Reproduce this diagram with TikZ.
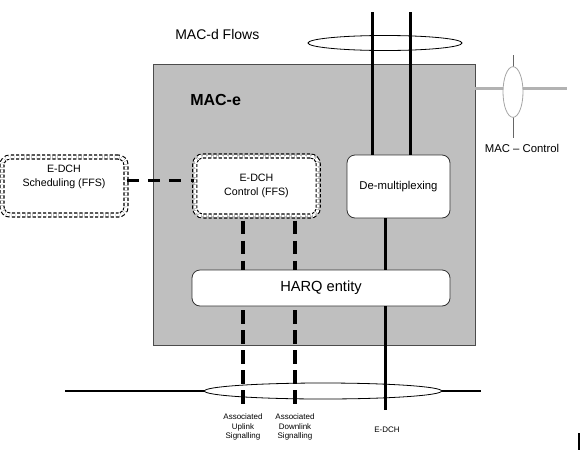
\documentclass[tikz,border=0pt]{standalone}
\usepackage{fontspec}
\setmainfont{Liberation Sans}
\usetikzlibrary{calc,shapes.geometric}
\begin{document}
\begin{tikzpicture}[x=0.75pt,y=-0.75pt,
  thickline/.style={line width=2.25pt,black},
  dashline/.style={line width=3pt,black,dash pattern=on 10pt off 5pt},
  ffsbox/.style={draw,fill=white,rounded corners=6pt,dashed,dash pattern=on 2.4pt off 1.5pt,
     line width=0.85pt,double=white,double distance=2.2pt,inner sep=0pt,align=center,font=\fontsize{8}{10}\selectfont},
  solidbox/.style={draw=black!80,fill=white,rounded corners=6pt,line width=0.6pt,inner sep=0pt,align=center},
  lens/.style={ellipse,draw,fill=white,line width=0.6pt},
  small/.style={align=center,font=\fontsize{6}{7}\selectfont,inner sep=0pt}]
\useasboundingbox (0,0) rectangle (581,468);
% MAC-e box
\node[draw=black!70,fill=black!25,line width=0.6pt,minimum width=241.5pt,minimum height=210.75pt,inner sep=0pt] (mace) at (314,204.5) {};
\node[anchor=west,font=\bfseries\fontsize{12}{14}\selectfont,inner sep=0pt] (macelbl) at (190,100) {MAC-e};
\node[anchor=west,font=\fontsize{10.5}{12}\selectfont,inner sep=0pt] (flowslbl) at (175,34) {MAC-d Flows};
% boxes
\node[solidbox,minimum width=77.25pt,minimum height=47.25pt,font=\fontsize{8.5}{10}\selectfont] (demux) at (398.5,186.5) {De-multiplexing};
\node[solidbox,minimum width=193.5pt,minimum height=27pt,font=\fontsize{11}{13}\selectfont] (harq) at (321,288) {HARQ entity};
\node[ffsbox,minimum width=92.5pt,minimum height=45pt] (ctrl) at (256.5,186) {E-DCH\\Control (FFS)};
\node[ffsbox,minimum width=93pt,minimum height=43.5pt] (sched) at (64,186) {};
\node[align=center,font=\fontsize{8}{10}\selectfont,inner sep=0pt] (schedlbl) at (64,177) {E-DCH\\Scheduling (FFS)};
% top flows
\node[lens,minimum width=115.5pt,minimum height=11.25pt,inner sep=0pt] (topell) at (385,43) {};
\coordinate (f1) at (372,12);
\coordinate (f2) at (410,12);
\draw[thickline] (f1) -- (f1 |- demux.north);
\draw[thickline] (f2) -- (f2 |- demux.north);
% E-DCH transport
\coordinate (edchend) at (385,410);
\draw[thickline] (demux.south -| edchend) -- (harq.north -| edchend);
% bottom line and ellipse
\coordinate (bl) at (65,391);
\coordinate (br) at (481,391);
\draw[line width=0.8pt] (bl) -- (br);
\node[lens,minimum width=177.75pt,minimum height=12pt,inner sep=0pt] (botell) at (323,391) {};
\draw[thickline] (harq.south -| edchend) -- (edchend);
% dashed signalling
\coordinate (ul) at (243,410);
\coordinate (dl) at (295,410);
\draw[dashline] ($(ctrl.south -| ul)+(0,4)$) -- (harq.north -| ul);
\draw[dashline] ($(ctrl.south -| dl)+(0,4)$) -- (harq.north -| dl);
\draw[dashline] ($(harq.south -| ul)+(0,4)$) -- (ul);
\draw[dashline] ($(harq.south -| dl)+(0,4)$) -- (dl);
\draw[line width=2.25pt,dash pattern=on 9pt off 7pt] (sched.east |- 0,180) -- (ctrl.west |- 0,180);
% MAC control
\coordinate (mcr) at (567,88);
\coordinate (mct) at (513,55);
\coordinate (mcb) at (513,138);
\draw[line width=2.25pt,black!30] (mace.east |- mcr) -- (mcr);
\draw[line width=0.7pt,black!60] (mct) -- (mcb);
\node[ellipse,draw=black!35,fill=white,line width=0.6pt,minimum width=15pt,minimum height=38pt,inner sep=0pt] (mcell) at (513,92) {};
\node[font=\fontsize{8.5}{10}\selectfont,inner sep=0pt] (mclbl) at (522,148) {MAC -- Control};
% labels
\node[small] (ullbl) at (243,427) {Associated\\Uplink\\Signalling};
\node[small] (dllbl) at (295,427) {Associated\\Downlink\\Signalling};
\node[small] (edchlbl) at (387,430) {E-DCH};
% stray mark
\coordinate (s1) at (579,433);
\coordinate (s2) at (579,450);
\draw[line width=1.5pt] (s1) -- (s2);
\end{tikzpicture}
\end{document}
